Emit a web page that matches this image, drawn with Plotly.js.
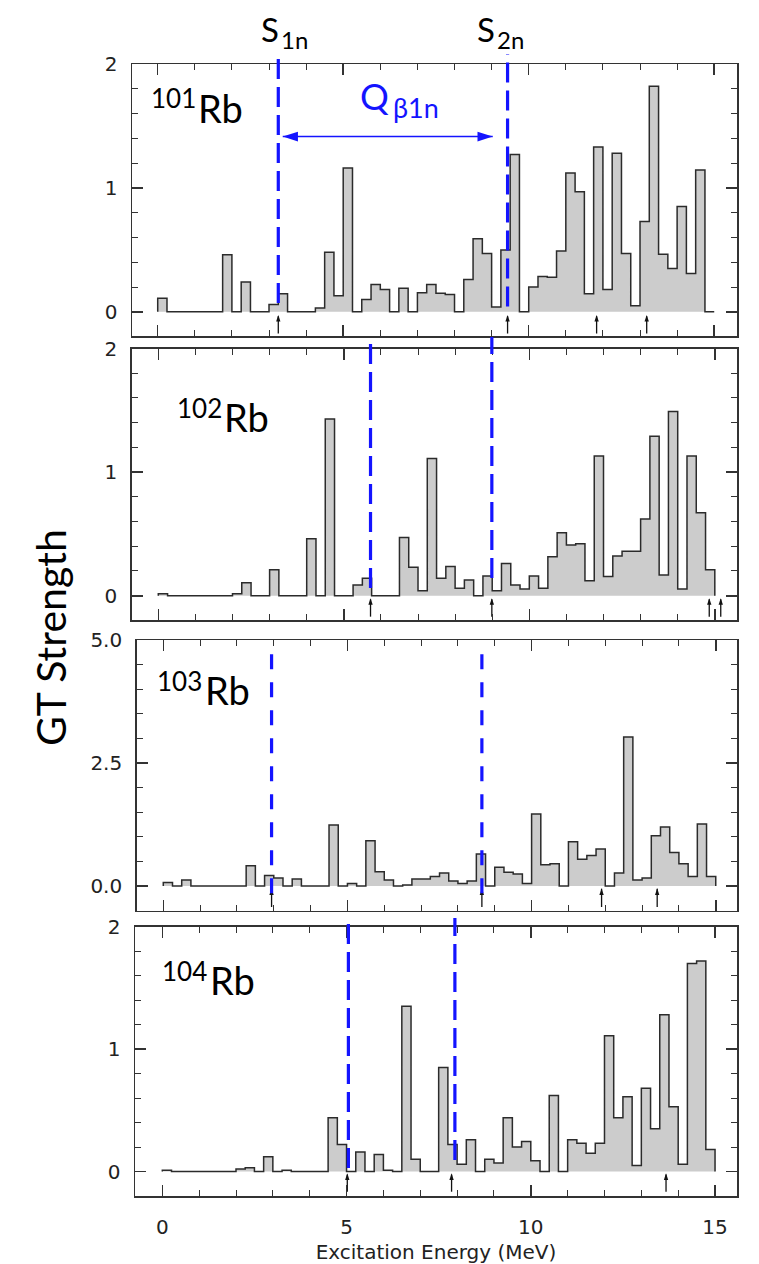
<!DOCTYPE html>
<html>
<head>
<meta charset="utf-8">
<script src="https://cdn.plot.ly/plotly-3.0.1.min.js"></script>
<style>
html,body{margin:0;padding:0;background:#fff;}
#chart{width:759px;height:1264px;}
</style>
</head>
<body>
<div id="chart"></div>
<script>
// ---------------- data ----------------
// bin edges of the GT-strength histograms (MeV)
const binEdges = [0,0.25,0.5,0.75,1,1.25,1.5,1.75,2,2.25,2.5,2.75,3,3.25,3.5,3.75,4,4.25,4.5,4.75,
  5,5.25,5.5,5.75,6,6.25,6.5,6.75,7,7.25,7.5,7.75,8,8.25,8.5,8.75,9,9.25,9.5,9.75,
  10,10.25,10.5,10.75,11,11.25,11.5,11.75,12,12.25,12.5,12.75,13,13.25,13.5,13.75,14,14.25,14.5,14.75,15];

const isotopes = ['101', '102', '103', '104'];
const element = 'Rb';

const gt101 = [0.11,0,0,0,0,0,0,0.46, 0,0.24,0,0,0.06,0.145,0,0,
  0,0.03,0.48,0.13,1.16,0,0.10,0.22, 0.18,0,0.19,0,0.155,0.22,0.15,0.14,
  0,0.26,0.59,0.47,0.04,0.50,1.27,0, 0.20,0.285,0.28,0.49,1.12,0.97,0.145,1.33,
  0.18,1.28,0.47,0.05,0.73,1.82,0.465,0.35, 0.85,0.31,1.145,0];

const gt102 = [0.015,0,0,0,0,0,0,0, 0.015,0.105,0,0,0.21,0,0,0,
  0.46,0,1.43,0,0,0.086,0.14,0, 0,0,0.47,0.23,0.04,1.11,0.14,0.235,
  0.06,0.127,0,0.16,0.04,0.26,0.086,0.054, 0.16,0.06,0.315,0.51,0.41,0.42,0.12,1.13,
  0.154,0.32,0.36,0.36,0.62,1.29,0.167,1.49, 0.054,1.13,0.67,0.21];

const gt103 = [0.07,0,0.12,0,0,0,0,0, 0,0.41,0,0.21,0.16,0,0.14,0,
  0,0,1.24,0,0.05,0,0.92,0.29, 0.12,0,0.02,0.14,0.14,0.19,0.26,0.10,
  0.05,0.10,0.65,0,0.38,0.28,0.24,0.05, 1.46,0.43,0.45,0,0.90,0.54,0.62,0.75,
  0,0.26,3.03,0.12,0.16,1.02,1.20,0.68, 0.45,0.19,1.26,0.19];

const gt104 = [0.01,0,0,0,0,0,0,0, 0.02,0.03,0,0.12,0,0.01,0,0,
  0,0,0.44,0.22,0,0.16,0,0.14, 0.01,0,1.35,0.10,0,0,0.85,0.22,
  0.06,0.26,0,0.10,0.07,0.44,0.20,0.245, 0.087,0,0.62,0,0.26,0.23,0.15,0.23,
  1.11,0.44,0.61,0.05,0.68,0.35,1.28,0.53, 0.06,1.70,1.72,0.18];

// neutron separation energies (MeV) per isotope
const s1n = [3.25, 5.72, 2.94, 5.05];
const s2n = [9.43, 8.99, 8.65, 7.94];

// small arrows marking levels below each histogram (MeV)
const arrows101 = [3.25, 9.43, 11.83, 13.18];
const arrows102 = [5.72, 8.99, 14.85, 15.16];
const arrows103 = [2.94, 8.65, 11.90, 13.41];
const arrows104 = [5.02, 7.85, 13.67];

// Q(beta 1n) window arrow in the 101Rb panel (MeV)
const qArrow = [3.37, 9.03];

const xTickVals = [0, 5, 10, 15];

// ---------------- styling / layout ----------------
const series = [gt101, gt102, gt103, gt104];
const arrowSets = [arrows101, arrows102, arrows103, arrows104];

const W = 759, H = 1264;
const px = v => v / W;
const py = v => 1 - v / H;

// panel frames in pixels: [left, right, top, bottom]
const frames = [
  [132, 737, 64, 336],
  [131.7, 737, 348.5, 620],
  [136.7, 737, 640, 910.5],
  [135, 737, 926.7, 1196]
];
const xRanges = [[-0.693, 15.614], [-0.717, 15.598], [-0.722, 15.577], [-0.741, 15.596]];
const yRanges = [[-0.195, 2.0], [-0.197, 2.0], [-0.5, 5.0], [-0.2, 2.0]];
const yDtick = [1, 1, 2.5, 1];
const yMinor = [0.2, 0.2, 0.5, 0.2];
const yFormat = ['', '', '.1f', ''];

const arrowHead = [-0.025, -0.02, -0.05, -0.015];
const arrowTail = [-0.175, -0.17, -0.43, -0.165];

const dashTop = [1.037, 1.042, 0.948, 1.032];
const dashBottom1 = [0.121, 0.118, 0.064, 0.104];
const dashBottom2 = [0.108, 0.155, 0.064, 0.134];
const dashStyle = ['20px,8px', '20px,8px', '15px,13px', '20px,8px'];

// isotope label placement (px): [massLeft, massCenterY, symbolLeft, symbolCenterY]
const labelPos = [[149, 98, 196, 108], [175, 408, 222, 417], [155, 681, 203, 690], [160, 971, 208, 980]];

const BLUE = '#1414ff';
const FRAME = '#333333';
const tickFont = {family: 'DejaVu Sans, Arial, sans-serif', size: 20, color: '#222'};
const labelFamily = 'Lato, "Open Sans", sans-serif';

const data = [];
const layout = {
  width: W, height: H,
  margin: {l: 0, r: 0, t: 0, b: 0},
  paper_bgcolor: '#fff', plot_bgcolor: '#fff',
  showlegend: false,
  shapes: [], annotations: []
};

function label(text, xref, x, yref, y, xanchor, size, color, extra) {
  return Object.assign({
    xref: xref, yref: yref, x: x, y: y, xanchor: xanchor, yanchor: 'middle',
    showarrow: false, text: text, font: {family: labelFamily, size: size, color: color}
  }, extra || {});
}

series.forEach((vals, i) => {
  const n = i + 1;
  const xid = n === 1 ? 'x' : 'x' + n;
  const yid = n === 1 ? 'y' : 'y' + n;
  const f = frames[i];

  // step histogram
  data.push({
    type: 'scatter', mode: 'lines',
    x: [binEdges[0]].concat(binEdges),
    y: [0].concat(vals, [0]),
    line: {shape: 'hv', color: '#2b2b2b', width: 1.5},
    fill: 'tozeroy', fillcolor: '#cccccc',
    xaxis: xid, yaxis: yid, hoverinfo: 'skip'
  });

  // small arrows under the baseline: stems + heads
  const sx = [], sy = [];
  arrowSets[i].forEach(a => { sx.push(a, a, null); sy.push(arrowTail[i], arrowHead[i] - 0.01, null); });
  data.push({
    type: 'scatter', mode: 'lines', x: sx, y: sy,
    line: {color: '#111', width: 1.3},
    xaxis: xid, yaxis: yid, hoverinfo: 'skip'
  });
  data.push({
    type: 'scatter', mode: 'markers',
    x: arrowSets[i], y: arrowSets[i].map(() => arrowHead[i]),
    marker: {symbol: 'arrow', size: 7, color: '#111', angle: 0, line: {width: 0}},
    xaxis: xid, yaxis: yid, hoverinfo: 'skip', cliponaxis: false
  });

  const xa = {
    domain: [px(f[0]), px(f[1])], anchor: yid,
    range: xRanges[i], fixedrange: true,
    showline: true, linecolor: FRAME, linewidth: 1.5, mirror: 'ticks',
    ticks: 'inside', tickmode: 'array', tickvals: xTickVals,
    ticklen: 11, tickwidth: 1.5, tickcolor: FRAME,
    minor: {dtick: 1, tick0: 0, ticks: 'inside', ticklen: 6, tickwidth: 1, tickcolor: FRAME, showgrid: false},
    showgrid: false, zeroline: false,
    showticklabels: n === 4, tickfont: tickFont, ticklabelstandoff: 12
  };
  if (n === 4) {
    xa.title = {text: 'Excitation Energy (MeV)', font: {family: 'DejaVu Sans, Arial, sans-serif', size: 20, color: '#222'}, standoff: 7};
  }
  layout['xaxis' + (n === 1 ? '' : n)] = xa;

  layout['yaxis' + (n === 1 ? '' : n)] = {
    domain: [py(f[3]), py(f[2])], anchor: xid,
    range: yRanges[i], fixedrange: true,
    showline: true, linecolor: FRAME, linewidth: 1.5, mirror: 'ticks',
    ticks: 'inside', tickmode: 'linear', tick0: 0, dtick: yDtick[i], tickformat: yFormat[i],
    ticklen: 11, tickwidth: 1.8, tickcolor: FRAME,
    minor: {dtick: yMinor[i], tick0: 0, ticks: 'inside', ticklen: 6, tickwidth: 1, tickcolor: FRAME, showgrid: false},
    showgrid: false, zeroline: false,
    tickfont: tickFont, ticklabelstandoff: 9
  };

  // S1n / S2n dashed lines
  [[s1n[i], dashBottom1[i]], [s2n[i], dashBottom2[i]]].forEach(([lx, yb]) => {
    layout.shapes.push({
      type: 'line', xref: xid, yref: yid + ' domain',
      x0: lx, x1: lx, y0: yb, y1: dashTop[i],
      line: {color: BLUE, width: 3.2, dash: dashStyle[i]}, layer: 'above'
    });
  });

  // isotope label: mass number (superscript) + element symbol
  const lp = labelPos[i];
  layout.annotations.push(label(isotopes[i], 'paper', px(lp[0]), 'paper', py(lp[1]), 'left', 26, '#000'));
  layout.annotations.push(label(element, 'paper', px(lp[2]), 'paper', py(lp[3]), 'left', 38, '#000'));
});

// Q beta-1n double arrow (101Rb panel)
data.push({
  type: 'scatter', mode: 'lines+markers',
  x: qArrow, y: [1.414, 1.414],
  line: {color: BLUE, width: 1.5},
  marker: {symbol: 'arrow', size: 16, color: BLUE, angle: [-90, 90], line: {width: 0}},
  xaxis: 'x', yaxis: 'y', hoverinfo: 'skip'
});

// Q_beta1n label (main letter + subscript)
layout.annotations.push(label('Q', 'paper', px(358), 'paper', py(96), 'left', 36, BLUE));
layout.annotations.push(label('β1n', 'paper', px(391), 'paper', py(107), 'left', 27, BLUE));

// S1n / S2n labels above the panel, attached to the dashed lines
layout.annotations.push(label('S', 'x', s1n[0], 'paper', py(29), 'right', 33, '#000', {xshift: 3}));
layout.annotations.push(label('1n', 'x', s1n[0], 'paper', py(39), 'left', 24, '#000', {xshift: 1}));
layout.annotations.push(label('S', 'x', s2n[0], 'paper', py(29), 'right', 33, '#000', {xshift: -11}));
layout.annotations.push(label('2n', 'x', s2n[0], 'paper', py(39), 'left', 24, '#000', {xshift: -13}));

// common y title
layout.annotations.push(label('GT Strength', 'paper', px(50), 'paper', py(638), 'center', 41, '#000', {textangle: -90}));

Plotly.newPlot('chart', data, layout, {staticPlot: true, displayModeBar: false});
</script>
</body>
</html>
